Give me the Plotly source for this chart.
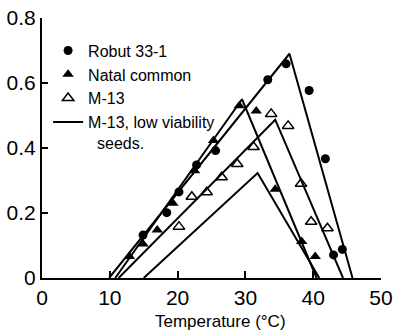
import plotly.graph_objects as go

# Data
robut_x = [14.9, 18.4, 20.2, 22.8, 25.6, 33.3, 36.0, 39.4, 41.8, 43.0, 44.3]
robut_y = [0.132, 0.201, 0.265, 0.348, 0.392, 0.61, 0.659, 0.577, 0.367, 0.071, 0.088]

natal_x = [12.9, 14.9, 17.0, 19.3, 22.5, 25.3, 29.1, 31.6, 34.4, 38.3, 40.3]
natal_y = [0.066, 0.105, 0.148, 0.23, 0.33, 0.423, 0.53, 0.514, 0.273, 0.112, 0.066]

m13_x = [20.2, 22.1, 24.3, 26.5, 28.8, 31.2, 33.8, 36.3, 38.2, 39.7, 42.1]
m13_y = [0.158, 0.25, 0.264, 0.31, 0.351, 0.403, 0.505, 0.468, 0.29, 0.173, 0.153]

# Fitted lines (start, peak, end)
robut_line_x = [9.9, 36.5, 45.8]
robut_line_y = [0.0, 0.69, 0.0]
natal_line_x = [10.8, 29.5, 40.5]
natal_line_y = [0.0, 0.55, 0.0]
m13_line_x = [11.3, 34.4, 44.4]
m13_line_y = [0.0, 0.487, 0.0]
lowv_line_x = [15.0, 31.8, 40.9]
lowv_line_y = [0.0, 0.323, 0.0]

x_ticks = [0, 10, 20, 30, 40, 50]
y_ticks = [0, 0.2, 0.4, 0.6, 0.8]
y_tick_labels = ["0", "0.2", "0.4", "0.6", "0.8"]

FONT = "Liberation Sans, Arial, sans-serif"
line_style = dict(color="black", width=2)

fig = go.Figure()
for lx, ly in [(robut_line_x, robut_line_y), (natal_line_x, natal_line_y), (m13_line_x, m13_line_y)]:
    fig.add_trace(go.Scatter(x=lx, y=ly, mode="lines", line=line_style,
                             showlegend=False, hoverinfo="skip"))

fig.add_trace(go.Scatter(x=robut_x, y=robut_y, mode="markers", name="Robut 33-1",
                         marker=dict(symbol="circle", size=9, color="black")))
fig.add_trace(go.Scatter(x=natal_x, y=natal_y, mode="markers", name="Natal common",
                         marker=dict(symbol="triangle-up", size=10, color="black")))
fig.add_trace(go.Scatter(x=m13_x, y=m13_y, mode="markers", name="M-13",
                         marker=dict(symbol="triangle-up-open", size=10, color="black",
                                     line=dict(width=1.5, color="black"))))
fig.add_trace(go.Scatter(x=lowv_line_x, y=lowv_line_y, mode="lines",
                         name="M-13, low viability<br>&nbsp;&nbsp;seeds.",
                         line=line_style))

fig.update_layout(
    width=394, height=334,
    margin=dict(l=42, r=13, t=18, b=56),
    paper_bgcolor="white", plot_bgcolor="white",
    font=dict(family=FONT, color="black"),
    legend=dict(x=0.018, y=0.94, xanchor="left", yanchor="top",
                bgcolor="rgba(0,0,0,0)", font=dict(size=16, family=FONT),
                valign="top", tracegroupgap=0),
    xaxis=dict(range=[0, 50], tickvals=x_ticks, ticks="inside", ticklen=7,
               tickwidth=1.5, tickcolor="black", showline=True, linecolor="black",
               linewidth=2, showgrid=False, zeroline=False, automargin=False,
               tickfont=dict(size=21, family=FONT), fixedrange=True),
    yaxis=dict(range=[0, 0.8], tickvals=y_ticks, ticktext=y_tick_labels,
               ticks="inside", ticklen=6, tickwidth=1.5, tickcolor="black",
               showline=True, linecolor="black", linewidth=2, showgrid=False,
               zeroline=False, automargin=False,
               tickfont=dict(size=21, family=FONT), fixedrange=True),
    annotations=[dict(text="Temperature (°C)", xref="paper", yref="paper",
                      x=0.528, y=-0.169, xanchor="center", yanchor="middle",
                      showarrow=False, font=dict(size=17, family=FONT))],
)

fig.write_html("out.html", config={"displayModeBar": False})

# remove the default page margin so the figure starts at the window's corner
with open("out.html", "r", encoding="utf-8") as f:
    html = f.read()
html = html.replace("<body>", '<body style="margin:0;overflow:hidden">', 1)
with open("out.html", "w", encoding="utf-8") as f:
    f.write(html)
